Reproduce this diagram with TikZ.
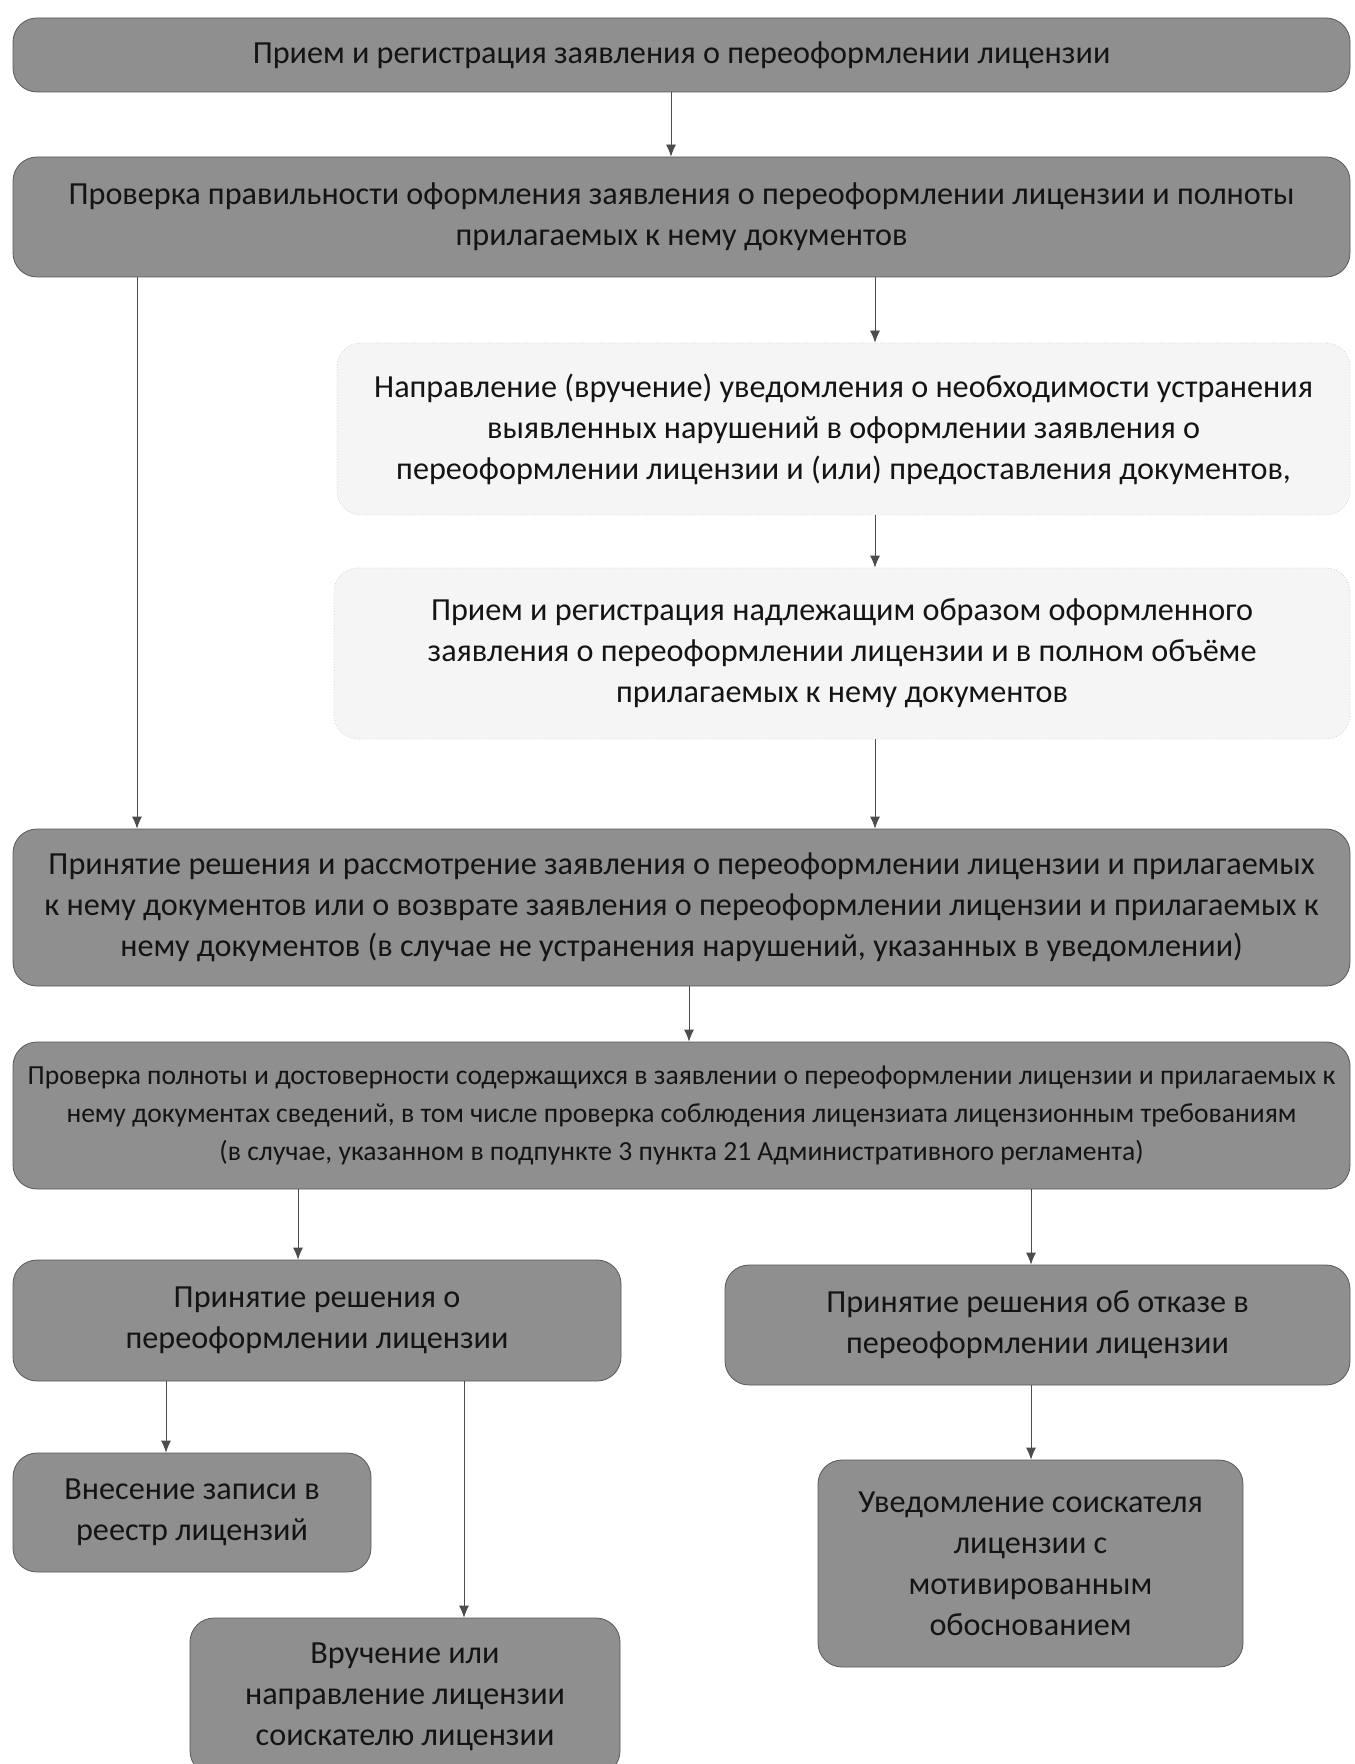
\documentclass[tikz,border=0pt]{standalone}
\usepackage{fontspec}
\setmainfont{Carlito}
\usetikzlibrary{arrows.meta}
\tikzset{
  box/.style={draw=black!65, fill=black!44, rounded corners=12pt, align=center,
    text=black!92, inner sep=0pt, font=\fontsize{16.1}{20.5}\selectfont},
  pale/.style={box, draw=black!18, fill=black!4, densely dotted},
  small/.style={font=\fontsize{13.8}{18.8}\selectfont},
  sz/.style 2 args={minimum width=#1pt, minimum height=#2pt},
  arr/.style={draw=black!70, -{Latex[length=6pt,width=5pt]}}
}

\begin{document}
\begin{tikzpicture}[x=0.5pt,y=-0.5pt]
\useasboundingbox (0,0) rectangle (1354,1764);

\node[box, sz={668.5}{37}] (priem) at (681.5,55) {Прием и регистрация заявления о переоформлении лицензии};
\node[box, sz={668.5}{60}] (proverka) at (681.5,217) {Проверка правильности оформления заявления о переоформлении лицензии и полноты\\прилагаемых к нему документов};
\node[pale, sz={506.5}{86}] (uvedom) at (843.5,429) {Направление (вручение) уведомления о необходимости устранения\\выявленных нарушений в оформлении заявления о\\переоформлении лицензии и (или) предоставления документов,};
\node[pale, sz={508}{85.5}] (priem2) at (842,653.5) {Прием и регистрация надлежащим образом оформленного\\заявления о переоформлении лицензии и в полном объёме\\прилагаемых к нему документов};
\node[box, sz={668.5}{78.5}] (reshenie) at (681.5,907.5) {Принятие решения и рассмотрение заявления о переоформлении лицензии и прилагаемых\\к нему документов или о возврате заявления о переоформлении лицензии и прилагаемых к\\нему документов (в случае не устранения нарушений, указанных в уведомлении)};
\node[box, small, sz={668.5}{73.5}] (polnota) at (681.5,1115.5) {Проверка полноты и достоверности содержащихся в заявлении о переоформлении лицензии и прилагаемых к\\нему документах сведений, в том числе проверка соблюдения лицензиата лицензионным требованиям\\(в случае, указанном в подпункте 3 пункта 21 Административного регламента)};
\node[box, sz={304}{60.5}] (pereof) at (317,1320.5) {Принятие решения о\\переоформлении лицензии};
\node[box, sz={312.5}{60}] (otkaz) at (1037.5,1325) {Принятие решения об отказе в\\переоформлении лицензии};
\node[box, sz={179}{59.5}] (reestr) at (192,1512.5) {Внесение записи в\\реестр лицензий};
\node[box, sz={215}{78.5}] (vruch) at (405,1696.5) {Вручение или\\направление лицензии\\соискателю лицензии};
\node[box, sz={212.5}{103.5}] (soisk) at (1030.5,1563.5) {Уведомление соискателя\\лицензии с\\мотивированным\\обоснованием};

\draw[arr] (priem.south -| 671,0) -- (proverka.north -| 671,0);
\draw[arr] (proverka.south -| 137,0) -- (reshenie.north -| 137,0);
\draw[arr] (proverka.south -| 875,0) -- (uvedom.north -| 875,0);
\draw[arr] (uvedom.south -| 875,0) -- (priem2.north -| 875,0);
\draw[arr] (priem2.south -| 875,0) -- (reshenie.north -| 875,0);
\draw[arr] (reshenie.south -| 689,0) -- (polnota.north -| 689,0);
\draw[arr] (polnota.south -| 298,0) -- (pereof.north -| 298,0);
\draw[arr] (polnota.south -| 1031,0) -- (otkaz.north -| 1031,0);
\draw[arr] (pereof.south -| 166,0) -- (reestr.north -| 166,0);
\draw[arr] (pereof.south -| 464,0) -- (vruch.north -| 464,0);
\draw[arr] (otkaz.south -| 1031,0) -- (soisk.north -| 1031,0);
\end{tikzpicture}
\end{document}
